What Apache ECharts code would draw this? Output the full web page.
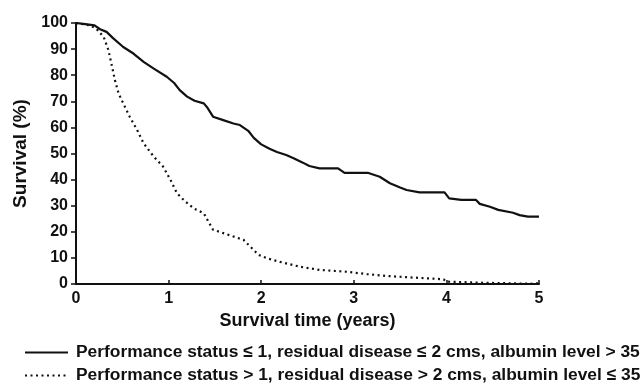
<!DOCTYPE html>
<html>
<head>
<meta charset="utf-8">
<script src="https://cdn.jsdelivr.net/npm/echarts@6/dist/echarts.min.js"></script>
<style>html,body{margin:0;padding:0;background:#fff}#c{width:644px;height:383px}</style>
</head>
<body>
<div id="c"></div>
<script>
var seriesNames = [
  'Performance status \u2264 1, residual disease \u2264 2 cms, albumin level > 35',
  'Performance status > 1, residual disease > 2 cms, albumin level \u2264 35'
];
var xTicks = [0, 1, 2, 3, 4, 5];
var yTicks = [0, 10, 20, 30, 40, 50, 60, 70, 80, 90, 100];
var goodTimes = [0,0.1,0.2,0.26,0.33,0.40,0.51,0.62,0.73,0.84,0.98,1.06,1.12,1.2,1.28,1.38,1.42,1.48,1.59,1.70,1.77,1.86,1.92,2.0,2.09,2.17,2.27,2.35,2.45,2.52,2.63,2.83,2.90,3.15,3.28,3.39,3.50,3.57,3.71,3.98,4.03,4.16,4.32,4.36,4.47,4.56,4.72,4.79,4.88,5.0];
var goodSurvival = [100,99.6,99.1,97.6,96.6,94.2,90.8,88.3,85.1,82.5,79.4,77,74.3,71.8,70.2,69.2,67.5,64.1,62.8,61.5,60.9,58.7,56,53.5,51.8,50.6,49.4,48.2,46.5,45.2,44.3,44.3,42.6,42.6,41.1,38.6,37.0,36.0,35.1,35.1,32.8,32.2,32.2,30.7,29.6,28.4,27.3,26.4,25.8,25.8];
var poorTimes = [0,0.15,0.22,0.30,0.35,0.39,0.42,0.46,0.51,0.58,0.66,0.73,0.84,0.94,1.02,1.09,1.18,1.27,1.38,1.43,1.48,1.59,1.70,1.81,1.88,1.97,2.06,2.20,2.42,2.63,2.92,3.14,3.35,3.57,3.78,3.97,4.0,4.36,4.93,5.0];
var poorSurvival = [100,99.1,97.8,94.6,89.6,83.2,78.1,73,69.2,64.1,59,53.9,48.8,45,39.9,34.8,31.6,29,27.1,23.9,20.8,19.5,18.2,16.9,14.4,11.2,9.9,8.5,6.6,5.4,4.7,3.8,3.1,2.6,2.2,1.8,0.9,0.5,0.1,0.3];

function pairs(t, v) { return t.map(function (x, i) { return [x, v[i]]; }); }

var FONT = "'Liberation Sans', Arial, Helvetica, sans-serif";
function legendFor(name, top) {
  return {
    orient: 'horizontal', left: 24, top: top,
    itemWidth: 43, itemHeight: 14, itemGap: 0, padding: 0,
    data: [name], selectedMode: false,
    itemStyle: { opacity: 0 },
    textStyle: { fontFamily: FONT, fontSize: 17.4, fontWeight: 'bold', color: '#111', padding: [0, 0, 0, 3] }
  };
}
var chart = echarts.init(document.getElementById('c'), null, { renderer: 'canvas' });
chart.setOption({
  animation: false,
  backgroundColor: '#fff',
  grid: { left: 76, right: 105, top: 23, bottom: 99, containLabel: false },
  legend: [legendFor(seriesNames[0], 344), legendFor(seriesNames[1], 367)],
  xAxis: {
    type: 'value', min: xTicks[0], max: xTicks[xTicks.length - 1], interval: 1,
    name: 'Survival time (years)', nameLocation: 'middle', nameGap: 27,
    nameTextStyle: { fontFamily: FONT, fontSize: 18, fontWeight: 'bold', color: '#111' },
    axisLine: { lineStyle: { color: '#111', width: 2 } },
    axisTick: { inside: true, length: 4, lineStyle: { color: '#111', width: 1.5 } },
    axisLabel: { fontFamily: FONT, fontSize: 16, fontWeight: 'bold', color: '#111', margin: 7,
      formatter: function (v) { return xTicks.indexOf(v) >= 0 ? String(v) : ''; } },
    splitLine: { show: false }
  },
  yAxis: {
    type: 'value', min: yTicks[0], max: yTicks[yTicks.length - 1], interval: 10,
    name: 'Survival (%)', nameLocation: 'middle', nameGap: 42, nameRotate: 90,
    nameTextStyle: { fontFamily: FONT, fontSize: 19, fontWeight: 'bold', color: '#111' },
    axisLine: { show: true, lineStyle: { color: '#111', width: 2 } },
    axisTick: { show: true, inside: false, length: 5, lineStyle: { color: '#111', width: 1.5 } },
    axisLabel: { fontFamily: FONT, fontSize: 16, fontWeight: 'bold', color: '#111', margin: 8,
      formatter: function (v) { return yTicks.indexOf(v) >= 0 ? String(v) : ''; } },
    splitLine: { show: false }
  },
  series: [
    {
      name: seriesNames[0], type: 'line', symbol: 'none', showSymbol: false,
      data: pairs(goodTimes, goodSurvival),
      lineStyle: { color: '#111', width: 2.2, type: 'solid' },
      itemStyle: { color: '#111' }
    },
    {
      name: seriesNames[1], type: 'line', symbol: 'none', showSymbol: false,
      data: pairs(poorTimes, poorSurvival),
      lineStyle: { color: '#111', width: 2.2, type: [2, 3.5] },
      itemStyle: { color: '#111' }
    }
  ]
});
</script>
</body>
</html>
